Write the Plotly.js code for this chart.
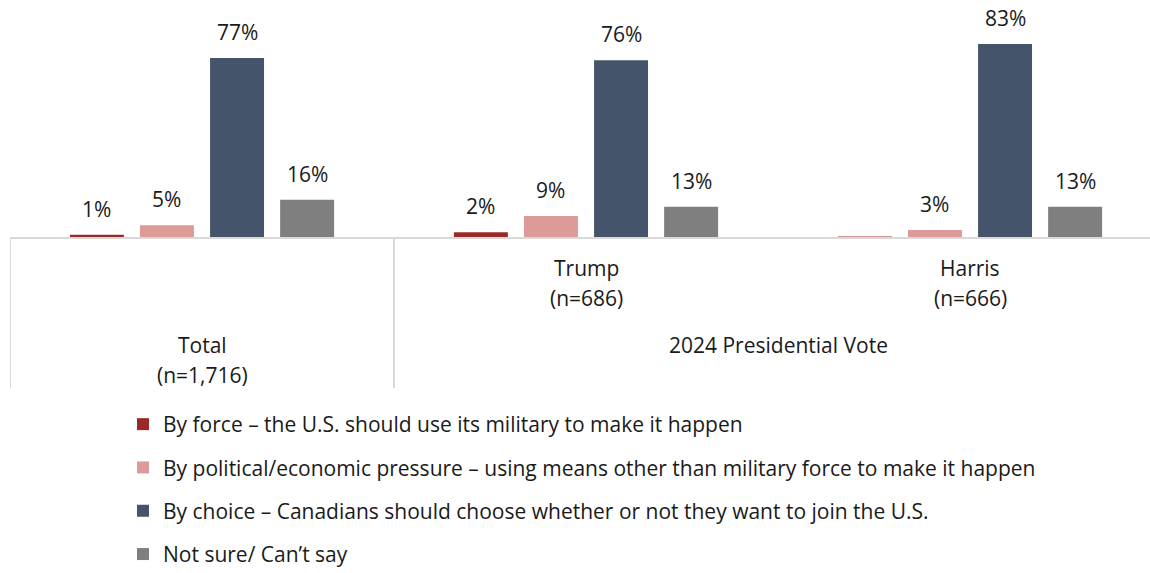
<!DOCTYPE html>
<html>
<head>
<meta charset="utf-8">
<script src="https://cdn.plot.ly/plotly-3.0.1.min.js"></script>
<style>html,body{margin:0;padding:0;background:#fff;}#chart{width:1150px;height:573px;}</style>
</head>
<body>
<div id="chart"></div>
<script>
// ---- data ----
const categories = ["Total", "Trump", "Harris"];
const categoryLabels = [["Total", "(n=1,716)"], ["Trump", "(n=686)"], ["Harris", "(n=666)"]];
const groupLabel = "2024 Presidential Vote";
const seriesNames = [
  "By force – the U.S. should use its military to make it happen",
  "By political/economic pressure – using means other than military force to make it happen",
  "By choice – Canadians should choose whether or not they want to join the U.S.",
  "Not sure/ Can’t say"
];
const byForce = [1, 2, 0.2];
const byPressure = [5, 9, 3];
const byChoice = [77, 76, 83];
const notSure = [16, 13, 13];
const byForceLabels = ["1%", "2%", null];
const byPressureLabels = ["5%", "9%", "3%"];
const byChoiceLabels = ["77%", "76%", "83%"];
const notSureLabels = ["16%", "13%", "13%"];

// ---- styles ----
const colors = ["#9a2a25", "#dc9a99", "#44546a", "#7f7f7f"];
const FONT = "'Open Sans', Lato, sans-serif";
const FS = 21;
const TXT = "#1a1a1a";
const values = [byForce, byPressure, byChoice, notSure];
const labels = [byForceLabels, byPressureLabels, byChoiceLabels, notSureLabels];
const BARGAP = 0.27;
const nSeries = values.length;
const slot = (1 - BARGAP) / nSeries;

const traces = values.map((v, i) => ({
  type: "bar",
  name: seriesNames[i],
  x: categories.map((c, j) => j),
  y: v,
  marker: {color: colors[i]},
  legendgroup: "g" + i,
  hoverinfo: "skip"
}));

const annotations = [];
values.forEach((v, i) => {
  v.forEach((val, j) => {
    const t = labels[i][j];
    if (t === null) return;
    annotations.push({
      xref: "x", yref: "y",
      x: j + (i - (nSeries - 1) / 2) * slot,
      y: val, text: t, showarrow: false,
      yanchor: "bottom", yshift: 10,
      font: {family: FONT, size: FS, color: TXT}
    });
  });
});
const PX = 214; // plot height in px
function py(px) { return -px / PX; }
function catLabel(x, off, text) {
  return {xref: "x", yref: "paper", x: x, y: py(off), text: text, showarrow: false, yanchor: "middle",
          font: {family: FONT, size: FS, color: TXT}};
}
annotations.push(
  catLabel(0, 108, categoryLabels[0][0]),
  catLabel(0, 138, categoryLabels[0][1]),
  catLabel(1, 31, categoryLabels[1][0]),
  catLabel(1, 61, categoryLabels[1][1]),
  catLabel(2, 31, categoryLabels[2][0]),
  catLabel(2, 61, categoryLabels[2][1]),
  catLabel(1.5, 108, groupLabel)
);

const shapes = [
  {type: "line", xref: "x", yref: "paper", x0: -0.5, x1: -0.5, y0: 0, y1: py(151), line: {color: "#d9d9d9", width: 2}},
  {type: "line", xref: "x", yref: "paper", x0: 0.5, x1: 0.5, y0: 0, y1: py(151), line: {color: "#d9d9d9", width: 2}}
];

const layout = {
  width: 1150, height: 573,
  margin: {l: 10, r: 0, t: 23, b: 336, autoexpand: false},
  paper_bgcolor: "#fff", plot_bgcolor: "#fff",
  barmode: "group", bargap: BARGAP, bargroupgap: 0.23,
  font: {family: FONT, size: FS, color: TXT},
  xaxis: {
    type: "linear", range: [-0.5, 2.46875], showticklabels: false, ticks: "",
    showgrid: false, zeroline: false, showline: true, linecolor: "#d9d9d9", linewidth: 2, fixedrange: true
  },
  yaxis: {range: [0, 92], visible: false, showgrid: false, zeroline: false, fixedrange: true},
  showlegend: true,
  legend: {
    orientation: "v", x: (123 - 10) / 1140, xanchor: "left", y: py(167), yanchor: "top",
    font: {family: FONT, size: FS, color: TXT}, tracegroupgap: 13, bgcolor: "rgba(0,0,0,0)", traceorder: "grouped"
  },
  annotations: annotations,
  shapes: shapes
};

Plotly.newPlot("chart", traces, layout, {displayModeBar: false, staticPlot: true});
</script>
</body>
</html>
